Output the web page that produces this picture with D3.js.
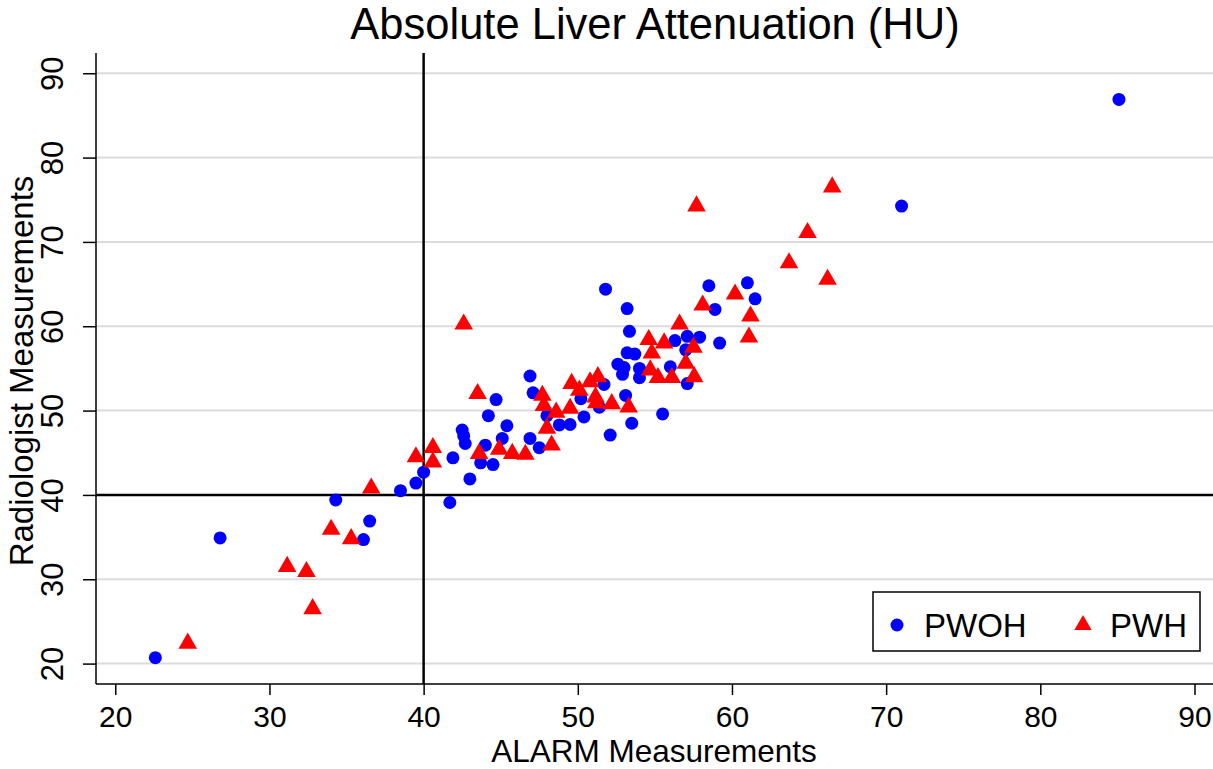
<!DOCTYPE html>
<html>
<head>
<meta charset="utf-8">
<script src="https://cdn.jsdelivr.net/npm/d3@7"></script>
<style>
  body { margin: 0; background: #fff; }
  text { font-family: Arial, "Liberation Sans", sans-serif; fill: #000; }
</style>
</head>
<body>
<svg id="chart" width="1213" height="769"></svg>
<script>
// PWOH (blue circles)
var pwohX = [22.6,26.8,34.3,36.1,36.5,38.5,39.5,40.0,41.7,41.9,43.0,42.5,42.6,42.7,44.2,44.7,44.0,43.7,44.5,45.4,45.1,46.9,47.5,46.9,47.1,48.0,48.8,49.5,50.2,50.4,51.7,51.4,52.1,51.8,53.1,53.5,53.2,53.35,53.2,53.7,52.6,53.0,52.9,54.0,54.0,55.5,56.0,56.3,57.1,57.9,57.0,57.1,58.5,58.9,59.2,61.0,61.5,71.0,85.1];
var pwohY = [20.7,34.9,39.4,34.7,36.9,40.5,41.4,42.7,39.1,44.4,41.9,47.7,47.0,46.1,49.4,51.3,45.9,43.8,43.6,48.2,46.7,46.7,45.6,54.1,52.1,49.4,48.3,48.35,51.4,49.25,53.1,50.4,47.1,64.4,51.8,48.5,62.1,59.4,56.85,56.7,55.5,55.1,54.3,55.0,53.9,49.6,55.2,58.3,58.8,58.7,57.2,53.2,64.8,62.0,58.0,65.15,63.25,74.25,86.9];
// PWH (red triangles)
var pwhX = [24.7,31.15,32.4,32.8,34.0,35.3,36.6,39.5,40.6,40.6,42.6,43.5,43.6,44.9,45.75,46.6,48.3,47.7,47.8,48.0,48.6,49.5,49.6,50.1,50.8,51.3,51.15,51.2,52.2,53.3,54.6,54.8,55.6,54.7,55.2,56.1,56.6,57.5,57.0,57.55,58.1,60.2,61.2,61.1,57.7,66.5,64.9,63.7,66.2];
var pwhY = [22.4,31.5,30.9,26.5,35.9,34.8,40.8,44.5,45.6,43.9,60.25,52.0,44.9,45.4,44.9,44.8,45.9,51.8,50.6,47.9,49.8,50.25,53.2,52.4,53.4,54.0,51.6,50.9,50.8,50.4,58.4,56.8,58.0,54.8,53.9,53.9,60.25,57.5,55.6,54.0,62.5,63.8,61.2,58.7,74.25,76.5,71.1,67.5,65.55];

var xTicks = [20,30,40,50,60,70,80,90];
var yTicks = [20,30,40,50,60,70,80,90];
var refX = 40, refY = 40;

var svg = d3.select('#chart');
var pLeft = 96, pRight = 1213, pTop = 53, pBottom = 684;
var fontF = 'Arial, "Liberation Sans", sans-serif';

var x = d3.scaleLinear().domain([18.75, 91.2]).range([pLeft, pRight]);
var y = d3.scaleLinear().domain([17.58, 92.4]).range([pBottom, pTop]);

// grid
svg.append('g').selectAll('line').data(yTicks).enter().append('line')
  .attr('x1', pLeft).attr('x2', pRight)
  .attr('y1', function(d){ return y(d); }).attr('y2', function(d){ return y(d); })
  .attr('stroke', '#dcdcdc').attr('stroke-width', 2);

// reference lines
svg.append('line').attr('x1', pLeft).attr('x2', pRight)
  .attr('y1', y(refY)).attr('y2', y(refY))
  .attr('stroke', '#000').attr('stroke-width', 2.5);
svg.append('line').attr('x1', x(refX)).attr('x2', x(refX))
  .attr('y1', pTop).attr('y2', pBottom)
  .attr('stroke', '#000').attr('stroke-width', 2.5);

// axes
var xAxis = svg.append('g').attr('transform', 'translate(0,' + pBottom + ')')
  .call(d3.axisBottom(x).tickValues(xTicks).tickSize(11).tickPadding(11));
var yAxis = svg.append('g').attr('transform', 'translate(' + pLeft + ',0)')
  .call(d3.axisLeft(y).tickValues(yTicks).tickSize(13));
xAxis.select('.domain').attr('d', 'M' + pLeft + ',0H' + pRight).attr('stroke-width', 1.5);
yAxis.select('.domain').attr('d', 'M0,' + pTop + 'V' + pBottom).attr('stroke-width', 1.5);
xAxis.selectAll('.tick line').attr('stroke-width', 1.5);
yAxis.selectAll('.tick line').attr('stroke-width', 1.5);
xAxis.selectAll('.tick text').attr('font-size', 30).attr('font-family', fontF).attr('fill', '#000');
yAxis.selectAll('.tick text')
  .attr('font-size', 31).attr('font-family', fontF).attr('fill', '#000')
  .attr('text-anchor', 'middle').attr('dy', 0).attr('x', 0)
  .attr('transform', 'translate(-33,0) rotate(-90)');

// points
var blue = pwohX.map(function(d, i){ return [d, pwohY[i]]; });
var red = pwhX.map(function(d, i){ return [d, pwhY[i]]; });

svg.append('g').selectAll('circle').data(blue).enter().append('circle')
  .attr('cx', function(d){ return x(d[0]); })
  .attr('cy', function(d){ return y(d[1]); })
  .attr('r', 6.5).attr('fill', '#0000ff');

var tri = d3.symbol().type(d3.symbolTriangle).size(150);
svg.append('g').selectAll('path').data(red).enter().append('path')
  .attr('d', tri)
  .attr('transform', function(d){ return 'translate(' + x(d[0]) + ',' + y(d[1]) + ')'; })
  .attr('fill', '#ff0000');

// titles
svg.append('text').attr('x', 655).attr('y', 39).attr('text-anchor', 'middle')
  .attr('font-size', 43.5).text('Absolute Liver Attenuation (HU)');
svg.append('text').attr('x', 654).attr('y', 762).attr('text-anchor', 'middle')
  .attr('font-size', 31.5).text('ALARM Measurements');
svg.append('text').attr('transform', 'translate(33,371) rotate(-90)').attr('text-anchor', 'middle')
  .attr('font-size', 33).text('Radiologist Measurements');

// legend
var lg = svg.append('g');
lg.append('rect').attr('x', 873).attr('y', 592).attr('width', 327).attr('height', 59)
  .attr('fill', '#fff').attr('stroke', '#000').attr('stroke-width', 1.5);
lg.append('circle').attr('cx', 897).attr('cy', 625).attr('r', 6.5).attr('fill', '#0000ff');
lg.append('text').attr('x', 924).attr('y', 637).attr('font-size', 33).text('PWOH');
lg.append('path').attr('d', d3.symbol().type(d3.symbolTriangle).size(130))
  .attr('transform', 'translate(1083,625)').attr('fill', '#ff0000');
lg.append('text').attr('x', 1110).attr('y', 637).attr('font-size', 33).text('PWH');
</script>
</body>
</html>
